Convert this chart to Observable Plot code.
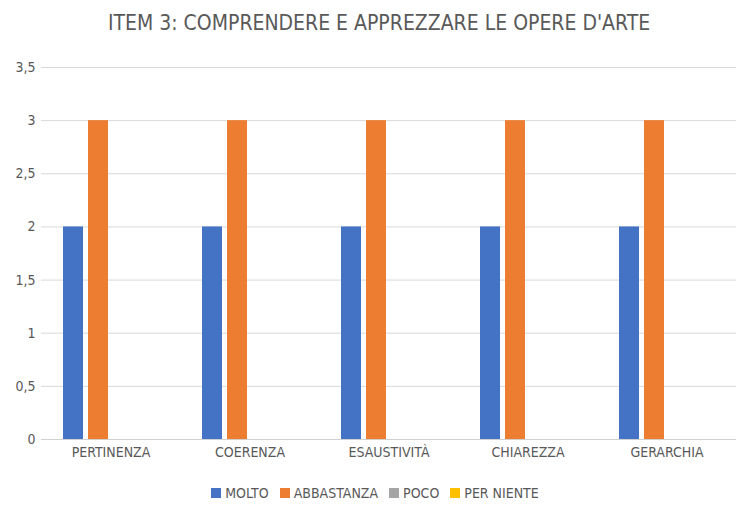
<!DOCTYPE html>
<html>
<head>
<meta charset="utf-8">
<script src="https://cdn.jsdelivr.net/npm/d3@7"></script>
<script src="https://cdn.jsdelivr.net/npm/@observablehq/plot@0.6"></script>
<style>
  html, body { margin: 0; padding: 0; background: #fff; }
  body { width: 740px; height: 511px; overflow: hidden; font-family: "DejaVu Sans Condensed", "DejaVu Sans", sans-serif; font-stretch: condensed; color: #595959; }
  #title { height: 50px; text-align: center; font-size: 21px; line-height: 46px; padding-left: 18px; box-sizing: border-box; }
  #legend { display: flex; justify-content: center; align-items: center; gap: 11px; font-size: 14px; padding-top: 16px; padding-left: 10px; }
  .item { display: flex; align-items: center; gap: 4px; }
  .sw { width: 10px; height: 10px; display: inline-block; }
</style>
</head>
<body>
<div id="title">ITEM 3: COMPRENDERE E APPREZZARE LE OPERE D'ARTE</div>
<div id="chart"></div>
<div id="legend"></div>
<script>
const categories = ["PERTINENZA", "COERENZA", "ESAUSTIVITÀ", "CHIAREZZA", "GERARCHIA"];
const series = ["MOLTO", "ABBASTANZA", "POCO", "PER NIENTE"];
const molto = [2, 2, 2, 2, 2];
const abbastanza = [3, 3, 3, 3, 3];
const poco = [0, 0, 0, 0, 0];
const perNiente = [0, 0, 0, 0, 0];
const colors = ["#4472C4", "#ED7D31", "#A5A5A5", "#FFC000"];
const yTicks = [0, 0.5, 1, 1.5, 2, 2.5, 3, 3.5];

const valuesBySeries = [molto, abbastanza, poco, perNiente];
const data = [];
categories.forEach((c, i) => {
  series.forEach((s, j) => data.push({cat: c, series: s, value: valuesBySeries[j][i]}));
});

const fmt = d => String(d).replace(".", ",");

const chart = Plot.plot({
  width: 740,
  height: 419,
  marginLeft: 40,
  marginRight: 3,
  marginTop: 17,
  marginBottom: 30,
  style: {fontFamily: '"DejaVu Sans Condensed", "DejaVu Sans", sans-serif', fontStretch: "condensed", fontSize: "14px", color: "#595959", background: "#fff"},
  fx: {domain: categories, padding: 0, label: null, axis: "bottom", tickSize: 0, tickPadding: 8},
  x: {domain: series, axis: null, paddingInner: 0.22, paddingOuter: 0.85},
  y: {domain: [0, 3.5], ticks: yTicks, tickFormat: fmt, tickSize: 0, tickPadding: 6, label: null},
  color: {domain: series, range: colors},
  marks: [
    Plot.gridY(yTicks, {stroke: "#D9D9D9", strokeOpacity: 1, strokeWidth: 1}),
    Plot.barY(data, {fx: "cat", x: "series", y: "value", fill: "series"}),
    Plot.ruleY([0], {stroke: "#D0D0D0", strokeWidth: 1})
  ]
});
document.getElementById("chart").appendChild(chart);

const legend = document.getElementById("legend");
series.forEach((s, i) => {
  const it = document.createElement("div");
  it.className = "item";
  const sw = document.createElement("span");
  sw.className = "sw";
  sw.style.background = colors[i];
  const tx = document.createElement("span");
  tx.textContent = s;
  it.appendChild(sw);
  it.appendChild(tx);
  legend.appendChild(it);
});
</script>
</body>
</html>
